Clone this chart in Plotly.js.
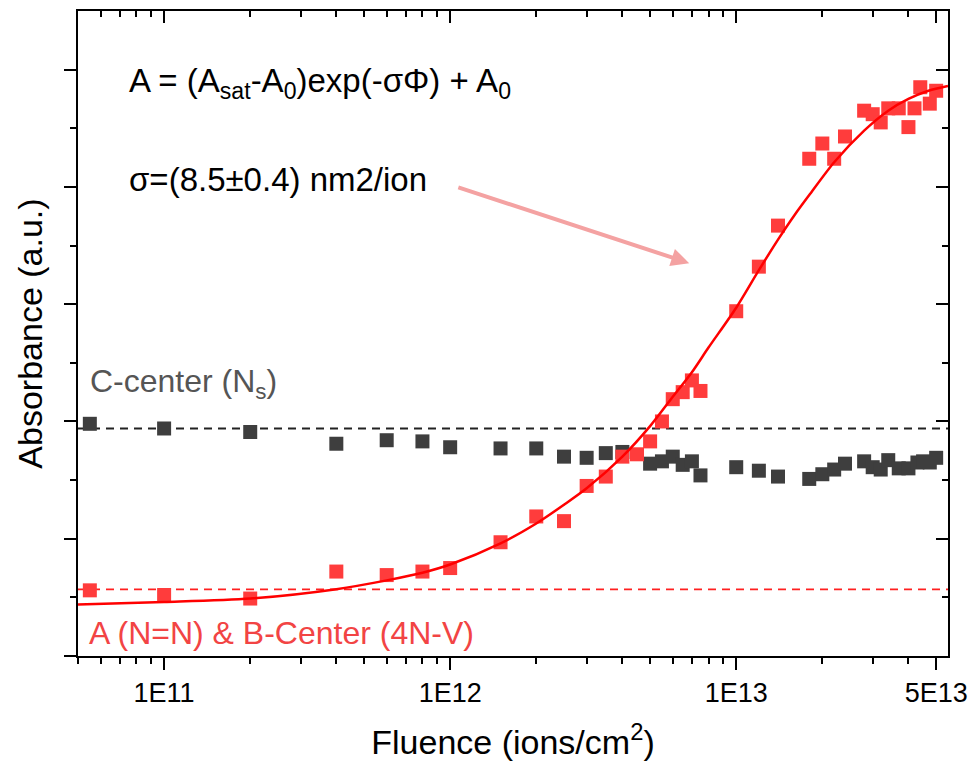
<!DOCTYPE html>
<html>
<head>
<meta charset="utf-8">
<script src="https://cdn.plot.ly/plotly-3.0.1.min.js"></script>
<style>
  html, body { margin: 0; padding: 0; background: #ffffff; }
  #chart { width: 980px; height: 761px; }
</style>
</head>
<body>
<div id="chart"></div>
<script>
// A (N=N) & B-centre absorbance versus ion fluence
const redFluence = [5.5e10, 1e11, 2e11, 4e11, 6e11, 8e11, 1e12, 1.5e12, 2e12, 2.5e12, 3e12, 3.5e12,
  4e12, 4.5e12, 5e12, 5.5e12, 6e12, 6.5e12, 7e12, 7.5e12, 1e13, 1.2e13, 1.4e13, 1.8e13, 2e13,
  2.2e13, 2.4e13, 2.8e13, 3e13, 3.2e13, 3.4e13, 3.7e13, 4e13, 4.2e13, 4.4e13, 4.75e13, 5e13];
const redAbsorbance = [0.56, 0.52, 0.49, 0.72, 0.69, 0.72, 0.75, 0.97, 1.19, 1.15, 1.45, 1.53,
  1.70, 1.72, 1.83, 2.00, 2.19, 2.25, 2.35, 2.26, 2.94, 3.32, 3.67, 4.24, 4.37,
  4.24, 4.43, 4.65, 4.62, 4.55, 4.67, 4.67, 4.51, 4.67, 4.85, 4.71, 4.82];

// C-centre (Ns) absorbance versus ion fluence
const grayFluence = [5.5e10, 1e11, 2e11, 4e11, 6e11, 8e11, 1e12, 1.5e12, 2e12, 2.5e12, 3e12, 3.5e12,
  4e12, 5e12, 5.5e12, 6e12, 6.5e12, 7e12, 7.5e12, 1e13, 1.2e13, 1.4e13, 1.8e13, 2e13,
  2.2e13, 2.4e13, 2.8e13, 3e13, 3.2e13, 3.4e13, 3.7e13, 4e13, 4.3e13, 4.5e13, 4.75e13, 5e13];
const grayAbsorbance = [1.98, 1.94, 1.91, 1.81, 1.84, 1.83, 1.78, 1.77, 1.77, 1.70, 1.69, 1.73,
  1.74, 1.64, 1.66, 1.70, 1.63, 1.66, 1.54, 1.61, 1.58, 1.53, 1.51, 1.55,
  1.59, 1.64, 1.66, 1.61, 1.59, 1.67, 1.60, 1.60, 1.65, 1.66, 1.65, 1.69];

// Fitted saturation curve A = (Asat-A0)exp(-sigma*Phi) + A0
const fitFluence = [5e10, 1e11, 2e11, 4e11, 6e11, 8e11, 1e12, 1.5e12, 2e12, 2.5e12, 3e12, 4e12, 5e12,
  6e12, 7e12, 8e12, 1e13, 1.2e13, 1.4e13, 1.6e13, 1.8e13, 2.2e13, 2.8e13, 3.4e13, 4e13, 4.7e13, 5.5e13];
const fitAbsorbance = [0.44, 0.46, 0.49, 0.57, 0.645, 0.71, 0.78, 0.96, 1.13, 1.29, 1.43, 1.70, 1.96,
  2.21, 2.42, 2.63, 2.97, 3.29, 3.55, 3.76, 3.93, 4.21, 4.48, 4.65, 4.75, 4.82, 4.86];

// Initial absorbance levels (dashed reference lines)
const cCenterLevel = [1.94];
const abCenterLevel = [0.568];

// Axis ticks
const xTickValues = [1e11, 1e12, 1e13, 5e13];
const xTickLabels = ['1E11', '1E12', '1E13', '5E13'];
const yTickValues = [0, 1, 2, 3, 4, 5];
const yMinorValues = [0.5, 1.5, 2.5, 3.5, 4.5];

const FONT = 'Liberation Sans, Arial, Helvetica, sans-serif';
const RED = '#ff3c3c';
const GRAY = '#3e3e3e';

const xRange = [Math.log10(5e10), Math.log10(5.5e13)];
const yRange = [0, 5.5];

const traces = [
  {
    x: grayFluence, y: grayAbsorbance, type: 'scatter', mode: 'markers',
    marker: { symbol: 'square', size: 14, color: GRAY },
    hoverinfo: 'x+y'
  },
  {
    x: redFluence, y: redAbsorbance, type: 'scatter', mode: 'markers',
    marker: { symbol: 'square', size: 14, color: RED },
    hoverinfo: 'x+y'
  },
  {
    x: fitFluence, y: fitAbsorbance, type: 'scatter', mode: 'lines',
    line: { color: '#ff0000', width: 2.5, shape: 'spline', smoothing: 0.8 },
    hoverinfo: 'skip'
  },
  // empty traces so the mirrored top and right axes get drawn
  { x: [], y: [], type: 'scatter', mode: 'markers', xaxis: 'x2', yaxis: 'y', hoverinfo: 'skip' },
  { x: [], y: [], type: 'scatter', mode: 'markers', xaxis: 'x', yaxis: 'y2', hoverinfo: 'skip' }
];

const axisCommon = {
  showgrid: false, zeroline: false, showline: true,
  linecolor: '#000000', linewidth: 2, tickcolor: '#000000', tickwidth: 2
};

const xMinor = { dtick: 'D1', ticklen: 6, tickwidth: 2, tickcolor: '#000000', showgrid: false };
const yMinor = { tickmode: 'array', tickvals: yMinorValues, ticklen: 6, tickwidth: 2, tickcolor: '#000000', showgrid: false };

const layout = {
  width: 980, height: 761,
  margin: { l: 78, r: 32, t: 11, b: 105, pad: 0 },
  paper_bgcolor: '#ffffff', plot_bgcolor: '#ffffff',
  showlegend: false,
  font: { family: FONT, color: '#000000' },
  xaxis: Object.assign({}, axisCommon, {
    type: 'log', range: xRange,
    tickmode: 'array', tickvals: xTickValues, ticktext: xTickLabels,
    ticks: 'outside', ticklen: 12,
    tickfont: { family: FONT, size: 27, color: '#000000' },
    minor: Object.assign({ ticks: 'outside' }, xMinor),
    title: { text: 'Fluence (ions/cm<sup>2</sup>)', font: { family: FONT, size: 34, color: '#000000' }, standoff: 36 },
    automargin: false
  }),
  yaxis: Object.assign({}, axisCommon, {
    range: yRange,
    tickmode: 'array', tickvals: yTickValues, showticklabels: false,
    ticks: 'outside', ticklen: 12,
    minor: Object.assign({ ticks: 'outside' }, yMinor),
    title: { text: 'Absorbance (a.u.)', font: { family: FONT, size: 34, color: '#000000' }, standoff: 11 },
    automargin: false
  }),
  xaxis2: Object.assign({}, axisCommon, {
    type: 'log', range: xRange, overlaying: 'x', side: 'top', anchor: 'y',
    tickmode: 'array', tickvals: xTickValues, showticklabels: false,
    ticks: 'inside', ticklen: 12,
    minor: Object.assign({ ticks: 'inside' }, xMinor),
    fixedrange: true
  }),
  yaxis2: Object.assign({}, axisCommon, {
    range: yRange, overlaying: 'y', side: 'right', anchor: 'x',
    tickmode: 'array', tickvals: yTickValues, showticklabels: false,
    ticks: 'inside', ticklen: 12,
    minor: Object.assign({ ticks: 'inside' }, yMinor),
    fixedrange: true
  }),
  shapes: [
    { type: 'line', xref: 'paper', yref: 'y', x0: 0, x1: 1, y0: cCenterLevel[0], y1: cCenterLevel[0],
      line: { color: '#222222', width: 2, dash: '8px,6px' }, layer: 'below' },
    { type: 'line', xref: 'paper', yref: 'y', x0: 0, x1: 1, y0: abCenterLevel[0], y1: abCenterLevel[0],
      line: { color: '#ff2020', width: 1.8, dash: '8px,6px' }, layer: 'below' }
  ],
  annotations: [
    { xref: 'paper', yref: 'paper', x: 0.056, y: 0.888, xanchor: 'left', yanchor: 'middle',
      text: 'A = (A<sub>sat</sub>-A<sub>0</sub>)exp(-σΦ) + A<sub>0</sub>', showarrow: false,
      font: { family: FONT, size: 33, color: '#000000' } },
    { xref: 'paper', yref: 'paper', x: 0.056, y: 0.738, xanchor: 'left', yanchor: 'middle',
      text: 'σ=(8.5±0.4) nm2/ion', showarrow: false,
      font: { family: FONT, size: 33, color: '#000000' } },
    { xref: 'paper', yref: 'paper', x: 0.012, y: 0.423, xanchor: 'left', yanchor: 'middle',
      text: 'C-center (N<sub>s</sub>)', showarrow: false,
      font: { family: FONT, size: 32, color: '#555555' } },
    { xref: 'paper', yref: 'paper', x: 0.010, y: 0.036, xanchor: 'left', yanchor: 'middle',
      text: 'A (N=N) &amp; B-Center (4N-V)', showarrow: false,
      font: { family: FONT, size: 32, color: '#f24444' } },
    { xref: 'x', yref: 'y', axref: 'x', ayref: 'y',
      x: Math.log10(6.85e12), y: 3.35, ax: Math.log10(1.055e12), ay: 4.0,
      text: '', showarrow: true, arrowhead: 2, arrowsize: 0.9, arrowwidth: 4,
      arrowcolor: '#f4a2a2', standoff: 0, startstandoff: 0 }
  ]
};

Plotly.newPlot('chart', traces, layout, { staticPlot: true, displayModeBar: false });
</script>
</body>
</html>
